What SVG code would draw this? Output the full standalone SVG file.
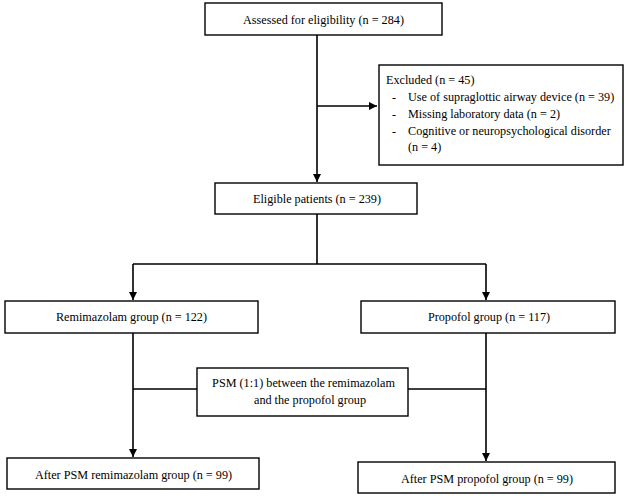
<svg xmlns="http://www.w3.org/2000/svg" width="625" height="496" viewBox="0 0 625 496">
<style>
.box{fill:#fff;stroke:#000;stroke-width:1.4}
.t{font-family:"Liberation Serif","Times New Roman",serif;font-size:12.2px;fill:#000}
.c{text-anchor:middle}
.ln{fill:none;stroke:#000;stroke-width:1.6}
</style>
<defs>
<marker id="ah" viewBox="0 0 10 10" refX="10" refY="5" markerWidth="5" markerHeight="5" orient="auto" markerUnits="strokeWidth">
<path d="M0,0 L10,5 L0,10 z" fill="#000"/>
</marker>
</defs>
<rect width="625" height="496" fill="#fff"/>
<g id="connectors">
<path class="ln" d="M317,35 V182" marker-end="url(#ah)"/>
<path class="ln" d="M317,106 H377" marker-end="url(#ah)"/>
<path class="ln" d="M317,214 V264 M133,264 H486"/>
<path class="ln" d="M133,264 V300" marker-end="url(#ah)"/>
<path class="ln" d="M486,264 V300" marker-end="url(#ah)"/>
<path class="ln" d="M133,333 V457" marker-end="url(#ah)"/>
<path class="ln" d="M486,333 V461" marker-end="url(#ah)"/>
<path class="ln" d="M133,389 H197 M408,389 H486"/>
</g>
<g id="assessed">
<rect class="box" x="205" y="3" width="237" height="32"/>
<text class="t c" x="323.5" y="23.5">Assessed for eligibility (n = 284)</text>
</g>
<g id="excluded">
<rect class="box" x="379" y="65" width="244" height="100"/>
<text class="t" x="386" y="84">Excluded (n = 45)</text>
<text class="t" x="392" y="101">-</text>
<text class="t" x="408" y="101">Use of supraglottic airway device (n = 39)</text>
<text class="t" x="392" y="118">-</text>
<text class="t" x="408" y="118">Missing laboratory data (n = 2)</text>
<text class="t" x="392" y="135">-</text>
<text class="t" x="408" y="135">Cognitive or neuropsychological disorder</text>
<text class="t" x="408" y="151">(n = 4)</text>
</g>
<g id="eligible">
<rect class="box" x="215" y="183" width="202" height="31"/>
<text class="t c" x="317" y="203">Eligible patients (n = 239)</text>
</g>
<g id="remimazolam">
<rect class="box" x="5" y="301" width="253" height="32"/>
<text class="t c" x="131.5" y="321">Remimazolam group (n = 122)</text>
</g>
<g id="propofol">
<rect class="box" x="361" y="301" width="254" height="32"/>
<text class="t c" x="489" y="321">Propofol group (n = 117)</text>
</g>
<g id="psm">
<rect class="box" x="197" y="368" width="211" height="48"/>
<text class="t c" x="303.5" y="387">PSM (1:1) between the remimazolam</text>
<text class="t c" x="310" y="404">and the propofol group</text>
</g>
<g id="after-remimazolam">
<rect class="box" x="7" y="458" width="252" height="31"/>
<text class="t c" x="133.5" y="478.5">After PSM remimazolam group (n = 99)</text>
</g>
<g id="after-propofol">
<rect class="box" x="358" y="462" width="257" height="31"/>
<text class="t c" x="487" y="482.5">After PSM propofol group (n = 99)</text>
</g>
</svg>
